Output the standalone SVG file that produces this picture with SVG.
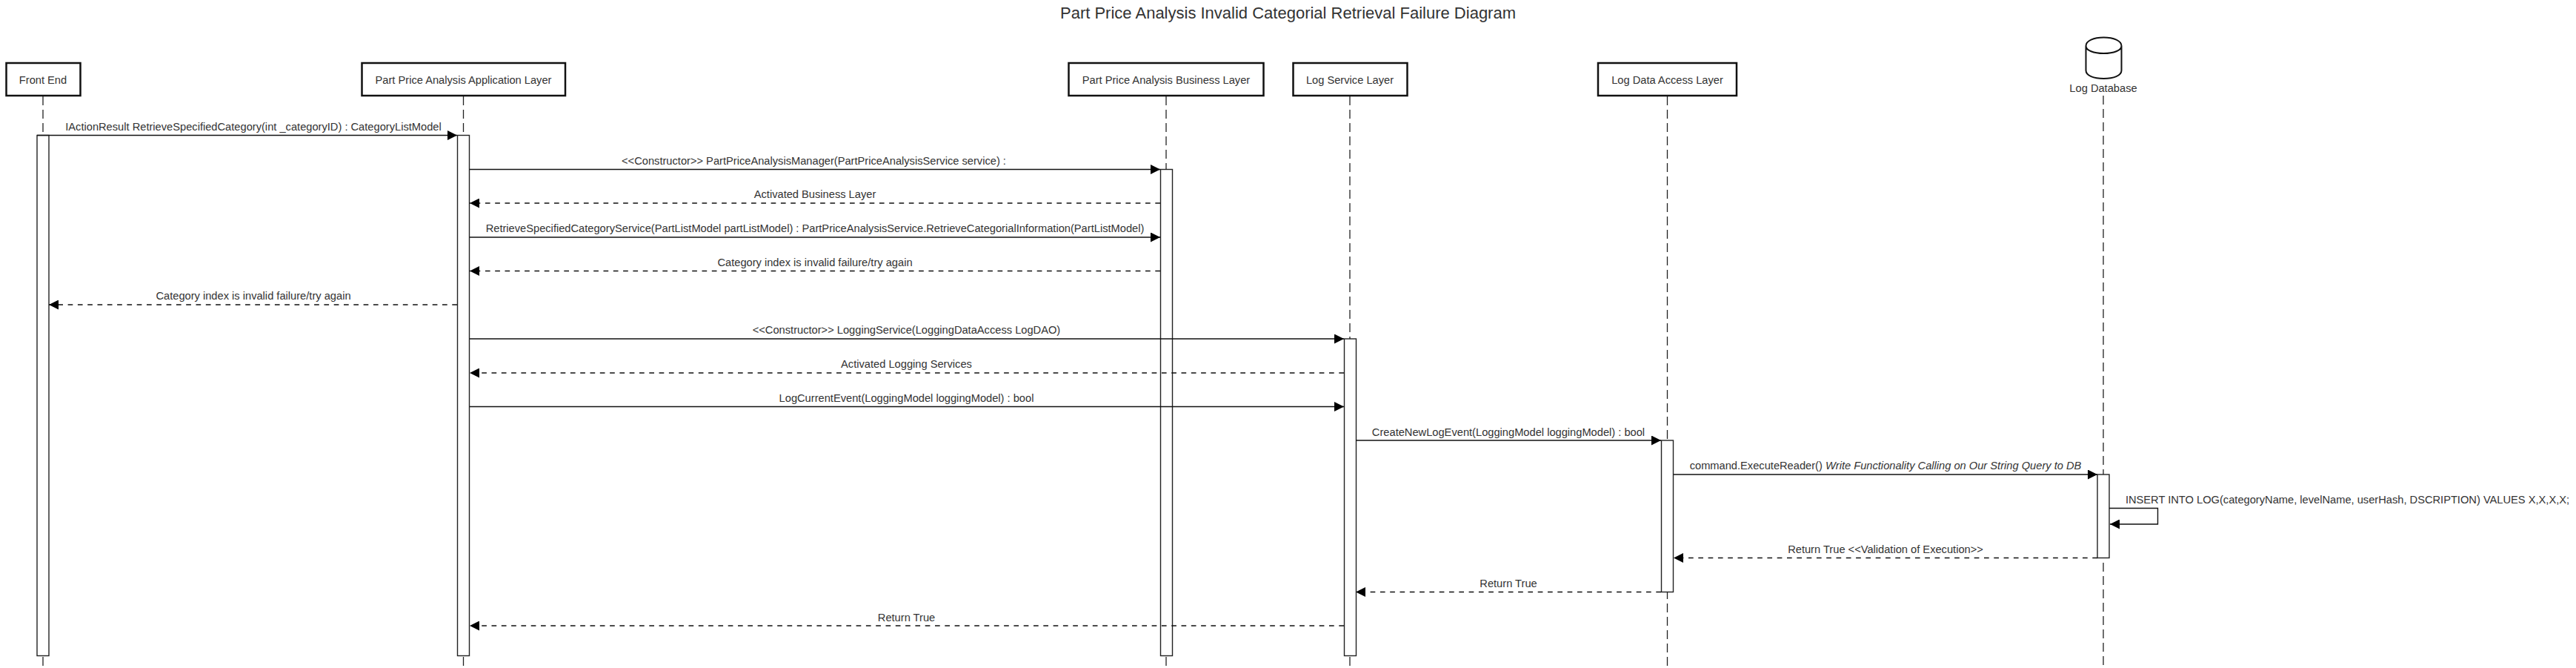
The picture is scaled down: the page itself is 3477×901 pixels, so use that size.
<svg xmlns="http://www.w3.org/2000/svg" width="3477" height="901" viewBox="0 0 3477 901">
<defs>
<marker id="arrow" markerUnits="userSpaceOnUse" markerWidth="13" markerHeight="13" refX="13" refY="6.5" orient="auto"><path d="M0 0L13 6.500L0 13z" fill="#000"/></marker>
</defs>
<style>
text{font-family:"Liberation Sans",Arial,sans-serif;fill:#333;font-size:14.67px;text-anchor:middle}
#title text{font-size:22px}
.box{fill:#fff;stroke:#111;stroke-width:2.5}
.life{stroke:#222;stroke-width:1.3;stroke-dasharray:12 6;fill:none}
.act{fill:#fff;stroke:#222;stroke-width:1.4}
.msg{stroke:#111;stroke-width:1.4;fill:none;marker-end:url(#arrow)}
.ret{stroke-dasharray:6.7 6.6}
</style>
<rect width="3477" height="901" fill="#fff"/>
<g id="title"><text x="1738.500" y="25">Part Price Analysis Invalid Categorial Retrieval Failure Diagram</text></g>
<g id="lifelines">
<path class="life" d="M58 130V898"/>
<path class="life" d="M625.500 130V898"/>
<path class="life" d="M1574 130V898"/>
<path class="life" d="M1822 130V898"/>
<path class="life" d="M2250.500 130V898"/>
<path class="life" d="M2839 129V898"/>
</g>
<g id="front-end"><rect class="box" x="8.500" y="85" width="100" height="44"/><text x="58" y="113">Front End</text></g>
<g id="application-layer"><rect class="box" x="488.500" y="85" width="274.500" height="44"/><text x="625.500" y="113">Part Price Analysis Application Layer</text></g>
<g id="business-layer"><rect class="box" x="1442.500" y="85" width="263" height="44"/><text x="1574" y="113">Part Price Analysis Business Layer</text></g>
<g id="log-service-layer"><rect class="box" x="1745.500" y="85" width="154" height="44"/><text x="1822" y="113">Log Service Layer</text></g>
<g id="log-data-access-layer"><rect class="box" x="2157" y="85" width="187" height="44"/><text x="2250.500" y="113">Log Data Access Layer</text></g>
<g id="log-database"><path d="M2815.500 62V95C2815.500 102 2826 106 2839.500 106S2863.500 102 2863.500 95V62C2863.500 55 2853 50.500 2839.500 50.500S2815.500 55 2815.500 62C2815.500 68 2826 72 2839.500 72S2863.500 68 2863.500 62" fill="#fff" stroke="#111" stroke-width="2"/><text x="2839" y="124">Log Database</text></g>
<g id="activations">
<rect class="act" x="50" y="182.500" width="16" height="702"/>
<rect class="act" x="617.500" y="182.500" width="16" height="702"/>
<rect class="act" x="1566.500" y="228.500" width="16" height="656"/>
<rect class="act" x="1814.500" y="457" width="16" height="427.500"/>
<rect class="act" x="2242.500" y="594" width="16" height="204.500"/>
<rect class="act" x="2831" y="640" width="16" height="112.500"/>
</g>
<g id="connectors">
<path class="msg" d="M50 182.500H617"/>
<path class="msg" d="M634 228.500H1566"/>
<path class="msg ret" d="M1566 274H634"/>
<path class="msg" d="M634 320H1566"/>
<path class="msg ret" d="M1566 365.500H634"/>
<path class="msg ret" d="M617 411H66"/>
<path class="msg" d="M634 457H1814"/>
<path class="msg ret" d="M1814 503H634"/>
<path class="msg" d="M634 548.500H1814"/>
<path class="msg" d="M1830 594H2242"/>
<path class="msg" d="M2259 640H2831"/>
<path class="msg" d="M2847 685.500H2912.500V707H2848"/>
<path class="msg ret" d="M2831 752.500H2259"/>
<path class="msg ret" d="M2242 798.500H1830"/>
<path class="msg ret" d="M1814 844H634"/>
</g>
<g id="labels">
<text x="342" y="176">IActionResult RetrieveSpecifiedCategory(int _categoryID) : CategoryListModel</text>
<text x="1098.500" y="222">&lt;&lt;Constructor&gt;&gt; PartPriceAnalysisManager(PartPriceAnalysisService service) :</text>
<text x="1100" y="267">Activated Business Layer</text>
<text x="1100" y="313">RetrieveSpecifiedCategoryService(PartListModel partListModel) : PartPriceAnalysisService.RetrieveCategorialInformation(PartListModel)</text>
<text x="1100" y="359">Category index is invalid failure/try again</text>
<text x="342" y="404">Category index is invalid failure/try again</text>
<text x="1223.500" y="450">&lt;&lt;Constructor&gt;&gt; LoggingService(LoggingDataAccess LogDAO)</text>
<text x="1223.500" y="496">Activated Logging Services</text>
<text x="1223.500" y="542">LogCurrentEvent(LoggingModel loggingModel) : bool</text>
<text x="2036" y="588">CreateNewLogEvent(LoggingModel loggingModel) : bool</text>
<text x="2545" y="633">command.ExecuteReader() <tspan font-style="italic">Write Functionality Calling on Our String Query to DB</tspan></text>
<text x="3168.500" y="679">INSERT INTO LOG(categoryName, levelName, userHash, DSCRIPTION) VALUES X,X,X,X;</text>
<text x="2545" y="746">Return True &lt;&lt;Validation of Execution&gt;&gt;</text>
<text x="2036" y="792">Return True</text>
<text x="1223.500" y="838">Return True</text>
</g>
</svg>
